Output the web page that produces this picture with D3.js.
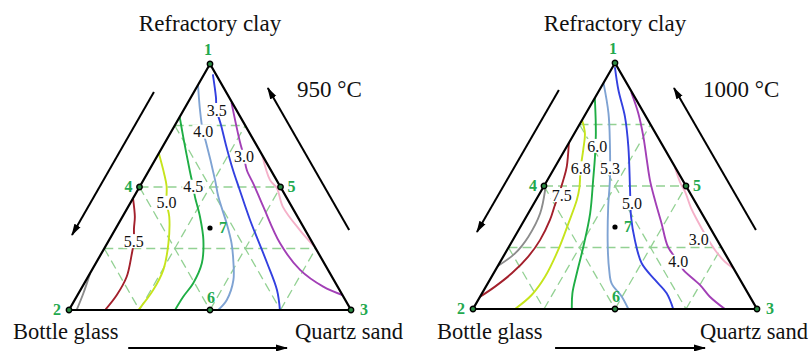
<!DOCTYPE html>
<html>
<head>
<meta charset="utf-8">
<script src="https://cdn.jsdelivr.net/npm/d3@7/dist/d3.min.js"></script>
<style>
  html, body { margin: 0; padding: 0; background: #fff; }
  svg { display: block; font-family: "Liberation Serif", "Times New Roman", serif; }
</style>
</head>
<body>
<svg id="chart" width="810" height="351"></svg>
<script>
// Component names at the three corners (top, bottom-left, bottom-right)
const componentNames = ["Refractory clay", "Bottle glass", "Quartz sand"];
const temperatures = ["950 °C", "1000 °C"];

// Composition points 1..7 as [sand %, clay %] (glass = 100 - sand - clay)
const pointIds = ["1", "2", "3", "4", "5", "6", "7"];
const pointComps = [[0, 100], [0, 0], [100, 0], [0, 50], [50, 50], [50, 0], [33.33, 33.33]];

// Grid levels (%) for the dashed composition grid
const gridLevels = [25, 50, 75];

// Isolines: [series, [[sand %, clay %], ...]]
const iso950 = [
  ["gray",   [[0, 15], [1.7, 6.8], [2.7, 0]]],
  ["red",    [[0, 45.4], [4.4, 37.9], [6.4, 33.3], [9.0, 28.0], [11.0, 22.4], [13.7, 13.5], [13.9, 6.1], [12.8, 0]]],
  ["yellow", [[0, 63.7], [5.9, 55.6], [9.4, 50.4], [12.8, 43.6], [16.6, 37.9], [21.7, 27.1], [25.3, 16.3], [25.8, 8.1], [24.6, 0]]],
  ["green",  [[0, 78.5], [5.3, 70.4], [14.8, 56.2], [19.0, 50.1], [21.6, 46.1], [27.5, 37.9], [33.4, 28.5], [37.6, 19.0], [38.6, 10.9], [37.8, 5.4], [37.6, 0]]],
  ["steel",  [[0, 91.5], [5.8, 81.3], [11.3, 72.4], [14.4, 68.3], [25.4, 52.8], [29.9, 46.1], [38.3, 35.2], [44.1, 27.1], [48.1, 20.3], [52.2, 12.2], [53.9, 4.1], [52.9, 0]]],
  ["blue",   [[3.3, 95.5], [8.8, 86.6], [11.7, 81.3], [16.3, 75.2], [22.1, 67.1], [29.7, 56.9], [35.5, 49.6], [45.9, 36.6], [60.7, 19.1], [69.7, 8.1], [74.8, 0]]],
  ["purple", [[15.6, 84.1], [26.4, 68.4], [30.9, 62.3], [34.6, 56.9], [40.2, 50.8], [47.9, 42.0], [61.3, 27.1], [73.8, 16.3], [85.4, 9.5], [93.9, 6.1]]],
  ["pink",   [[37.0, 63.0], [44.9, 52.8], [48.9, 49.6], [54.9, 41.9], [65.6, 32.5], [74.4, 25.6]]]
];
const iso1000 = [
  ["gray",   [[1.2, 48.4], [4.2, 38.9], [4.8, 29.4], [3.5, 22.6], [0, 17.5]]],
  ["red",    [[0, 67.5], [4.1, 57.8], [5.6, 52.4], [7.0, 46.3], [7.7, 42.3], [9.0, 36.2], [9.6, 28.0], [8.8, 21.3], [6.4, 14.5], [3.2, 9.1], [0, 5.0]]],
  ["yellow", [[0, 76.8], [3.7, 71.4], [6.5, 64.6], [9.3, 57.2], [12.9, 49.1], [14.4, 44.3], [16.2, 34.8], [18.0, 24.0], [18.8, 13.1], [17.8, 5.7], [14.8, 0]]],
  ["green",  [[0, 85.8], [4.8, 76.8], [7.9, 70.7], [12.0, 61.9], [16.1, 52.4], [21.8, 38.9], [26.2, 25.3], [29.3, 14.5], [31.8, 6.4], [34.8, 0]]],
  ["steel",  [[0, 91.9], [7.9, 79.6], [14.5, 67.4], [22.0, 52.4], [26.8, 41.6], [34.8, 25.3], [40.0, 15.9], [43.6, 10.4], [49.9, 5.0], [54.7, 0]]],
  ["blue",   [[1.0, 98.0], [6.7, 89.0], [14.4, 78.2], [21.7, 66.0], [31.1, 48.4], [36.9, 37.5], [43.0, 28.0], [50.1, 18.6], [58.2, 11.8], [65.0, 6.4], [70.5, 0]]],
  ["purple", [[11.9, 87.8], [18.4, 79.6], [25.0, 70.0], [30.9, 60.6], [36.1, 52.4], [41.9, 44.3], [49.0, 34.8], [56.0, 25.3], [62.7, 19.2], [66.1, 15.9], [75.0, 9.8], [80.9, 5.0], [88.7, 0]]],
  ["pink",   [[42.5, 57.3], [47.1, 51.6], [50.9, 47.6], [56.2, 41.1], [60.8, 36.2], [67.2, 29.7], [73.2, 24.0], [79.1, 19.2], [83.2, 16.7]]]
];

// Isoline value labels: [text, sand %, clay %]
const labels950 = [
  ["3.5", 11.7, 81.3], ["4.0", 11.4, 72.5], ["3.0", 30.9, 62.3],
  ["4.5", 19.0, 50.1], ["5.0", 12.8, 43.6], ["5.5", 9.0, 28.0]
];
const labels1000 = [
  ["6.0", 10.6, 66.3], ["6.8", 9.3, 57.2], ["5.3", 19.6, 57.2],
  ["7.5", 8.1, 46.3], ["5.0", 34.4, 43.1], ["3.0", 65.3, 28.4], ["4.0", 62.7, 19.2]
];

// Styling
const seriesColor = {
  gray: "#8c8c8c", red: "#a3202c", yellow: "#c6e41c", green: "#1fae45",
  steel: "#7fa3d3", blue: "#3340e0", purple: "#a23fb6", pink: "#f5b1c9"
};
const idColor = "#23a94e";

// Panel layouts: triangle base corners and apex height in page pixels
const panels = [
  { left: 69, right: 351, base: 310, top: 64, iso: iso950, labels: labels950, temp: temperatures[0],
    tempX: 297, leftArrow: [0.114, 0.695, -40], rightArrow: [0.098, 0.675, 44], bottomArrow: [0.21, 0.773, 38],
    nameY: 31, sideY: 339, glassX: 13, sandX: 403 },
  { left: 473, right: 757, base: 309, top: 63, iso: iso1000, labels: labels1000, temp: temperatures[1],
    tempX: 703, leftArrow: [0.11, 0.687, -40.5], rightArrow: [0.102, 0.679, 44.5], bottomArrow: [0.289, 0.817, 39],
    nameY: 31, sideY: 339, glassX: 437, sandX: 808 }
];
// Offsets of the corner / point number labels relative to their point
const idOffsets = [[-2, -9], [-12, 5], [13, 5], [-11, 5], [11, 5], [1, -7], [13, 5]];

const svg = d3.select("#chart");
const defs = svg.append("defs");
defs.append("marker")
  .attr("id", "head")
  .attr("viewBox", "0 0 12 8")
  .attr("refX", 11).attr("refY", 4)
  .attr("markerWidth", 12).attr("markerHeight", 8)
  .attr("markerUnits", "userSpaceOnUse")
  .attr("orient", "auto")
  .append("path").attr("d", "M0,0.5 L12,4 L0,7.5 Z").attr("fill", "#000");

panels.forEach((p, pi) => {
  const xs = d3.scaleLinear().domain([0, 100]).range([p.left, p.right]);
  const ys = d3.scaleLinear().domain([0, 100]).range([p.base, p.top]);
  const px = (s, c) => xs(s + c / 2);
  const py = (s, c) => ys(c);
  const proj = d => [px(d[0], d[1]), py(d[0], d[1])];

  const g = svg.append("g");
  const T = proj([0, 100]), L = proj([0, 0]), R = proj([100, 0]);

  const clipId = "tri" + pi;
  defs.append("clipPath").attr("id", clipId)
    .append("polygon").attr("points", [T, L, R].map(d => d.join(",")).join(" "));

  // Dashed composition grid
  const gridSegs = [];
  gridLevels.forEach(k => {
    gridSegs.push([[0, k], [100 - k, k]]);          // constant clay
    gridSegs.push([[k, 0], [k, 100 - k]]);          // constant sand
    gridSegs.push([[0, 100 - k], [100 - k, 0]]);    // constant glass
  });
  g.append("g").selectAll("line").data(gridSegs).join("line")
    .attr("x1", d => proj(d[0])[0]).attr("y1", d => proj(d[0])[1])
    .attr("x2", d => proj(d[1])[0]).attr("y2", d => proj(d[1])[1])
    .attr("stroke", "#93d193").attr("stroke-width", 1.3)
    .attr("stroke-dasharray", "9,5");

  // Isolines
  const line = d3.line().x(d => proj(d)[0]).y(d => proj(d)[1]).curve(d3.curveCatmullRom.alpha(0.5));
  g.append("g").attr("clip-path", `url(#${clipId})`)
    .selectAll("path").data(p.iso).join("path")
    .attr("d", d => line(d[1]))
    .attr("fill", "none")
    .attr("stroke", d => seriesColor[d[0]])
    .attr("stroke-width", 1.9)
    .attr("stroke-linecap", "round");

  // Isoline value labels with a white backing
  const lab = g.append("g").selectAll("g").data(p.labels).join("g")
    .attr("transform", d => `translate(${px(d[1], d[2])},${py(d[1], d[2])})`);
  lab.append("rect")
    .attr("x", -11).attr("y", -7).attr("width", 22).attr("height", 14)
    .attr("fill", "#fff");
  lab.append("text")
    .attr("text-anchor", "middle").attr("dy", "0.35em")
    .attr("font-size", 16).attr("fill", "#111")
    .text(d => d[0]);

  // Triangle outline
  g.append("polygon")
    .attr("points", [T, L, R].map(d => d.join(",")).join(" "))
    .attr("fill", "none").attr("stroke", "#000").attr("stroke-width", 2.2)
    .attr("stroke-linejoin", "miter");

  // Direction arrows alongside the edges
  const along = (A, B, t) => [A[0] + t * (B[0] - A[0]), A[1] + t * (B[1] - A[1])];
  const arrows = [];
  {
    const [t0, t1, h] = p.leftArrow;
    const a = along(T, L, t0), b = along(T, L, t1);
    arrows.push([[a[0] + h, a[1]], [b[0] + h, b[1]]]);
  }
  {
    const [t0, t1, h] = p.rightArrow;
    const a = along(T, R, t1), b = along(T, R, t0);
    arrows.push([[a[0] + h, a[1]], [b[0] + h, b[1]]]);
  }
  {
    const [f0, f1, dy] = p.bottomArrow;
    const a = along(L, R, f0), b = along(L, R, f1);
    arrows.push([[a[0], a[1] + dy], [b[0], b[1] + dy]]);
  }
  g.append("g").selectAll("line").data(arrows).join("line")
    .attr("x1", d => d[0][0]).attr("y1", d => d[0][1])
    .attr("x2", d => d[1][0]).attr("y2", d => d[1][1])
    .attr("stroke", "#000").attr("stroke-width", 2)
    .attr("marker-end", "url(#head)");

  // Numbered composition points
  const pts = g.append("g").selectAll("g").data(pointComps).join("g")
    .attr("transform", d => `translate(${proj(d)[0]},${proj(d)[1]})`);
  pts.append("circle")
    .attr("r", (d, i) => i === 6 ? 2.6 : 2.7)
    .attr("fill", (d, i) => i === 6 ? "#000" : "#2b8a42")
    .attr("stroke", "#000").attr("stroke-width", (d, i) => i === 6 ? 0 : 1.4);
  pts.append("text")
    .attr("x", (d, i) => idOffsets[i][0]).attr("y", (d, i) => idOffsets[i][1])
    .attr("text-anchor", "middle")
    .attr("font-size", 16).attr("font-weight", "bold")
    .attr("fill", idColor)
    .text((d, i) => pointIds[i]);

  // Component names and temperature
  g.append("text").attr("x", T[0]).attr("y", p.nameY)
    .attr("text-anchor", "middle").attr("font-size", 23).attr("fill", "#111")
    .text(componentNames[0]);
  g.append("text").attr("x", p.glassX).attr("y", p.sideY)
    .attr("font-size", 22.5).attr("fill", "#111")
    .text(componentNames[1]);
  g.append("text").attr("x", p.sandX).attr("y", p.sideY)
    .attr("text-anchor", "end").attr("font-size", 22.5).attr("fill", "#111")
    .text(componentNames[2]);
  g.append("text").attr("x", p.tempX).attr("y", 97)
    .attr("font-size", 23).attr("fill", "#111")
    .text(p.temp);
});
</script>
</body>
</html>
